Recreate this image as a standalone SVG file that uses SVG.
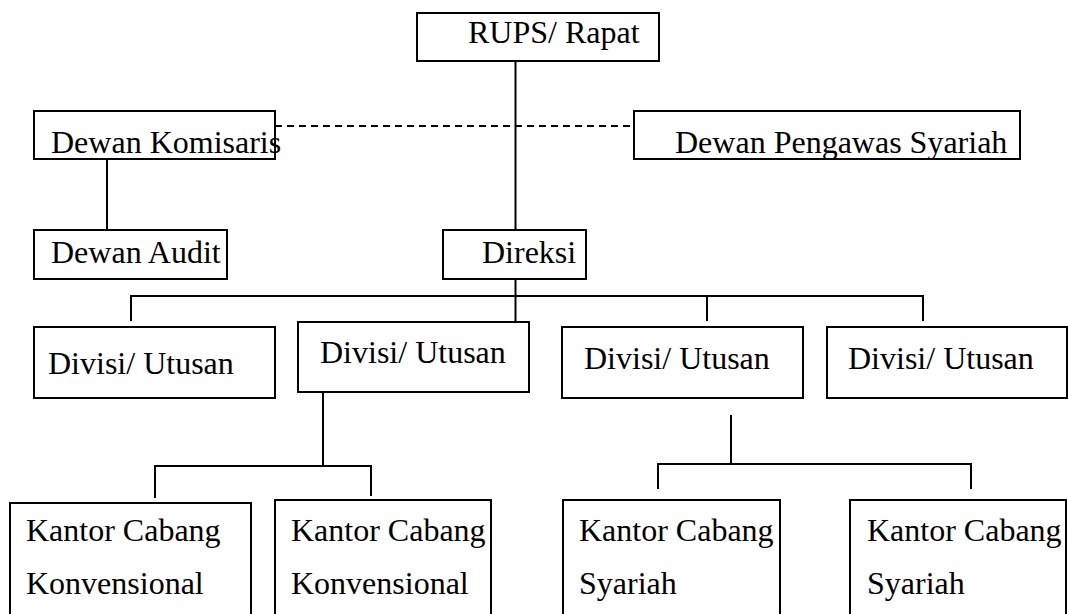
<svg xmlns="http://www.w3.org/2000/svg" width="1068" height="614" viewBox="0 0 1068 614">
<style>
.box{fill:#fff;stroke:#000;stroke-width:2}
text{font-family:'Liberation Serif',Tinos,'Times New Roman',serif;font-size:32px;fill:#000}
.ln{stroke:#000;stroke-width:2;fill:none}
.dash{stroke:#000;stroke-width:2;fill:none;stroke-dasharray:7 5}
</style>
<rect width="1068" height="614" fill="#fff"/>
<g id="connectors">
<line class="dash" x1="275" y1="126" x2="634" y2="126"/>
<line class="ln" x1="107" y1="159" x2="107" y2="231"/>
<line class="ln" x1="515.5" y1="61" x2="515.5" y2="230"/>
<line class="ln" x1="515.5" y1="279" x2="515.5" y2="322"/>
<polyline class="ln" points="131,321 131,296 923,296 923,321"/>
<line class="ln" x1="707" y1="296" x2="707" y2="321"/>
<line class="ln" x1="323" y1="392" x2="323" y2="466"/>
<polyline class="ln" points="155,498 155,466 371,466 371,496"/>
<line class="ln" x1="731" y1="415" x2="731" y2="464"/>
<polyline class="ln" points="658,489 658,464 971,464 971,489"/>
</g>
<g id="rups"><rect class="box" x="417" y="13" width="242" height="48"/><text x="468" y="43">RUPS/ Rapat</text></g>
<g id="komisaris"><rect class="box" x="34" y="111" width="241" height="48"/><text x="51" y="153">Dewan Komisaris</text></g>
<g id="pengawas"><rect class="box" x="634" y="111" width="386" height="48"/><text x="675" y="153">Dewan Pengawas Syariah</text></g>
<g id="audit"><rect class="box" x="34" y="230" width="193" height="49"/><text x="51" y="263">Dewan Audit</text></g>
<g id="direksi"><rect class="box" x="443" y="230" width="143" height="49"/><text x="482" y="263">Direksi</text></g>
<g id="divisi1"><rect class="box" x="34" y="327" width="241" height="71"/><text x="48" y="374">Divisi/ Utusan</text></g>
<g id="divisi2"><rect class="box" x="298" y="322" width="231" height="70"/><text x="320" y="363">Divisi/ Utusan</text></g>
<g id="divisi3"><rect class="box" x="562" y="327" width="241" height="71"/><text x="584" y="369">Divisi/ Utusan</text></g>
<g id="divisi4"><rect class="box" x="827" y="327" width="240" height="71"/><text x="848" y="369">Divisi/ Utusan</text></g>
<g id="kantor1"><rect class="box" x="10" y="503" width="241" height="130"/><text x="26" y="541">Kantor Cabang</text><text x="26" y="594">Konvensional</text></g>
<g id="kantor2"><rect class="box" x="275" y="500" width="216" height="130"/><text x="291" y="541">Kantor Cabang</text><text x="291" y="594">Konvensional</text></g>
<g id="kantor3"><rect class="box" x="563" y="500" width="217" height="130"/><text x="579" y="541">Kantor Cabang</text><text x="579" y="594">Syariah</text></g>
<g id="kantor4"><rect class="box" x="850" y="500" width="216" height="130"/><text x="867" y="541">Kantor Cabang</text><text x="867" y="594">Syariah</text></g>
</svg>
